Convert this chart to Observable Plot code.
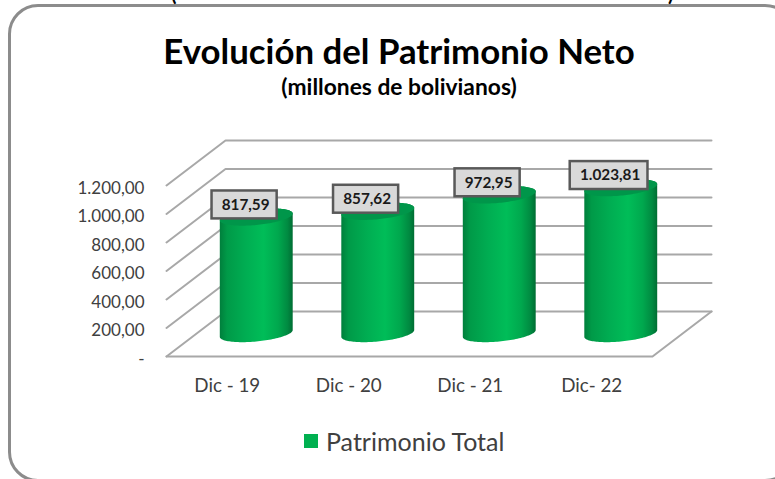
<!DOCTYPE html>
<html lang="es">
<head>
<meta charset="utf-8">
<script src="https://cdn.jsdelivr.net/npm/d3@7"></script>
<script src="https://cdn.jsdelivr.net/npm/@observablehq/plot@0.6"></script>
<style>
  html, body { margin: 0; padding: 0; background: #fff; }
  #page { position: relative; width: 775px; height: 479px; overflow: hidden; font-family: Lato, "Open Sans", sans-serif; }
  #border { position: absolute; left: 8px; top: 4px; width: 781px; height: 472px; border: 3px solid #8c8c8c; border-radius: 30px; }
  #chart svg { position: absolute; left: 0; top: 0; }
  .t { position: absolute; white-space: nowrap; color: #000; font-weight: 700; line-height: 1; }
  #title { left: 0; width: 798px; text-align: center; top: 34px; font-size: 34.8px; }
  #subtitle { left: 0; width: 798px; text-align: center; top: 75px; font-size: 22.8px; }
  .cut { top: -17px; font-size: 20px; }
  #legend { position: absolute; left: 304px; top: 427px; display: flex; align-items: center; height: 28px; color: #404040; font-size: 25px; }
  #legend i { width: 14px; height: 14px; background: #00b050; margin-right: 8px; display: block; }
</style>
</head>
<body>
<div id="page">
  <div id="border"></div>
  <div class="t cut" style="left:171px">(</div>
  <div class="t cut" style="left:668px">)</div>
  <div id="chart"></div>
  <div class="t" id="title">Evolución del Patrimonio Neto</div>
  <div class="t" id="subtitle">(millones de bolivianos)</div>
  <div id="legend"><i></i><span>Patrimonio Total</span></div>
</div>
<script>
const categories = ["Dic - 19", "Dic - 20", "Dic - 21", "Dic- 22"];
const values = [817.59, 857.62, 972.95, 1023.81];
const valueLabels = ["817,59", "857,62", "972,95", "1.023,81"];
const yTicks = [0, 200, 400, 600, 800, 1000, 1200];
const yLabels = ["-", "200,00", "400,00", "600,00", "800,00", "1.000,00", "1.200,00"];

// Oblique projection of the 3D box, in scale units
const depthX = 0.4856, depthY = 316;
const gx = (i, d) => i + d * depthX;
const gy = (v, d) => v + d * depthY;
const radiusX = 0.3, radiusY = 56, skew = -24;

// Wall and floor lines
const wallRows = yTicks.flatMap(v => [
  {k: v, x: gx(0, 0), y: gy(v, 0)},
  {k: v, x: gx(0, 1), y: gy(v, 1)},
  {k: v, x: gx(4, 1), y: gy(v, 1)}
]);
const floorRows = [[4, 1], [4, 0], [0, 0]].map(([i, d]) => ({x: gx(i, d), y: gy(0, d)}));

// Elliptical outline, sampled along the cylinder's width
const angles = d3.range(0, 61).map(n => Math.PI * n / 60);
const cylinderRows = values.flatMap((v, i) => angles.map(a => {
  const u = -Math.cos(a), h = Math.sin(a);
  const cx = gx(i + 0.5, 0.5), cb = gy(0, 0.5), ct = gy(v, 0.5);
  return {
    k: i,
    x: cx + u * radiusX,
    bottom: cb - u * skew - h * radiusY,
    top: ct - u * skew + h * radiusY,
    capLow: ct - u * skew - h * radiusY
  };
}));

const boxRows = values.map((v, i) => {
  const cx = gx(i + 0.5, 0.5) - 0.1, cy = gy(v, 0.5) + 88;
  const half = valueLabels[i].length > 6 ? 0.32 : 0.268;
  return {x: cx, y: cy, x1: cx - half, x2: cx + half, y1: cy - 98, y2: cy + 98, label: valueLabels[i]};
});

const gradient = () => {
  const ns = "http://www.w3.org/2000/svg";
  const defs = document.createElementNS(ns, "defs");
  const g = document.createElementNS(ns, "linearGradient");
  g.setAttribute("id", "cyl");
  [[0, "#007f3c"], [0.1, "#009a48"], [0.35, "#00ad52"], [0.6, "#00bd58"], [0.8, "#00a84e"], [0.93, "#008a41"], [1, "#006d33"]]
    .forEach(([o, c]) => {
      const s = document.createElementNS(ns, "stop");
      s.setAttribute("offset", o);
      s.setAttribute("stop-color", c);
      g.appendChild(s);
    });
  defs.appendChild(g);
  return defs;
};

const plot = Plot.plot({
  width: 775, height: 479,
  marginLeft: 166, marginRight: 123, marginTop: 185, marginBottom: 123,
  style: {fontFamily: "Lato, sans-serif", background: "transparent", overflow: "visible"},
  x: {domain: [0, 4]},
  y: {domain: [0, 1200]},
  marks: [
    gradient,
    Plot.line(wallRows, {x: "x", y: "y", z: "k", stroke: "#a8a8a8", strokeWidth: 2, curve: "linear"}),
    Plot.line(floorRows, {x: "x", y: "y", stroke: "#a8a8a8", strokeWidth: 2, curve: "linear"}),
    Plot.areaY(cylinderRows, {x: "x", y1: "bottom", y2: "top", z: "k", fill: "url(#cyl)", curve: "linear"}),
    Plot.areaY(cylinderRows, {x: "x", y1: "capLow", y2: "top", z: "k", fill: "#00964a", curve: "linear"}),
    Plot.rect(boxRows, {x1: "x1", x2: "x2", y1: "y1", y2: "y2", fill: "#d9d9d9", stroke: "#595959", strokeWidth: 2.5}),
    Plot.text(boxRows, {x: "x", y: "y", text: "label", fontWeight: 700, fontSize: 15.3, fill: "#1a1a1a", dx: 1}),
    Plot.axisY({ticks: yTicks, tickSize: 0, tickPadding: 22, fontSize: 17, fill: "#404040", label: null, dy: 3,
      tickFormat: d => yLabels[yTicks.indexOf(d)]}),
    Plot.axisX({ticks: categories.map((c, i) => i + 0.5), tickSize: 0, tickPadding: 22, fontSize: 18.8, fill: "#404040", label: null,
      tickFormat: d => categories[d - 0.5]})
  ]
});
document.getElementById("chart").appendChild(plot);
</script>
</body>
</html>
